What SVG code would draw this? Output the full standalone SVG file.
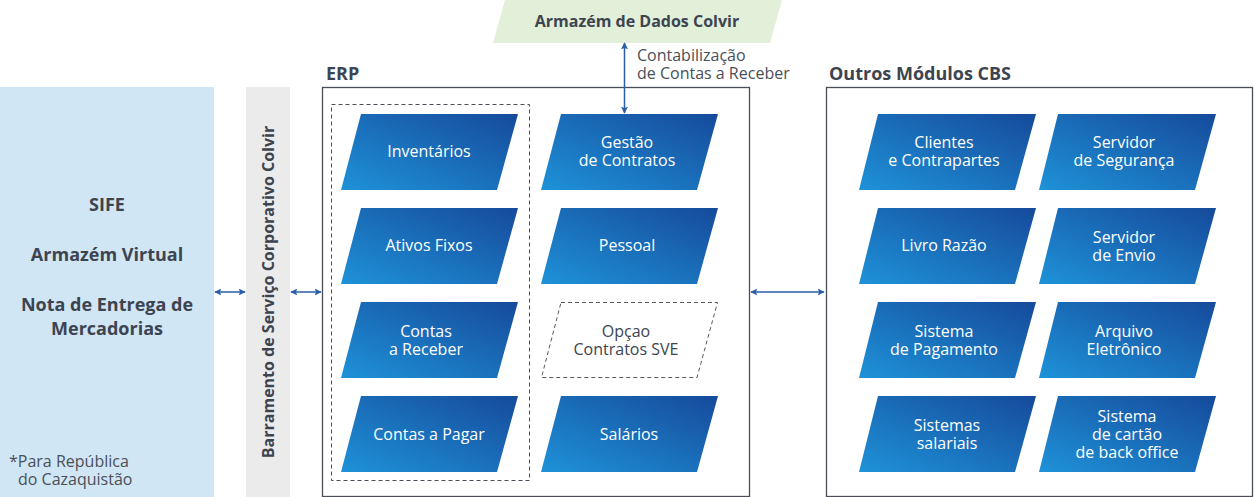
<svg xmlns="http://www.w3.org/2000/svg" width="1254" height="497" viewBox="0 0 1254 497">
<defs>
<linearGradient id="g" x1="0" y1="1" x2="1" y2="0">
<stop offset="0" stop-color="#1e92d8"/>
<stop offset="1" stop-color="#164a9b"/>
</linearGradient>
<marker id="ah" viewBox="0 0 10 10" refX="9" refY="5" markerWidth="7" markerHeight="7" markerUnits="userSpaceOnUse" orient="auto-start-reverse">
<path d="M0,0 L10,5 L0,10 L2,5 z" fill="#2a5fa8"/>
</marker>
<style>
.mod{fill:url(#g)}
.mt{font-family:"Open Sans","Liberation Sans",sans-serif;font-size:16px;fill:#ffffff;text-anchor:middle}
.dt{font-family:"Open Sans","Liberation Sans",sans-serif;font-size:16px;fill:#3d4450;text-anchor:middle}
.bt{font-family:"Open Sans","Liberation Sans",sans-serif;font-weight:bold;fill:#3d4450}
.rt{font-family:"Open Sans","Liberation Sans",sans-serif;font-size:16px;fill:#4a4f57}
.box{fill:#ffffff;stroke:#4a4f57;stroke-width:1.3}
.conn{stroke:#2a5fa8;stroke-width:1.5;fill:none;marker-start:url(#ah);marker-end:url(#ah)}
</style>
</defs>

<g id="sife">
<rect x="0" y="87" width="214" height="410" fill="#d0e6f5"/>
<text class="bt" font-size="18" text-anchor="middle" x="107" y="211">SIFE</text>
<text class="bt" font-size="18" text-anchor="middle" x="107" y="261">Armazém Virtual</text>
<text class="bt" font-size="18" text-anchor="middle" x="107" y="311">Nota de Entrega de</text>
<text class="bt" font-size="18" text-anchor="middle" x="107" y="335">Mercadorias</text>
<text class="rt" x="9" y="467">*Para República</text>
<text class="rt" x="18" y="485">do Cazaquistão</text>
</g>

<g id="bus">
<rect x="246" y="87" width="44" height="410" fill="#ebebeb"/>
<text class="bt" font-size="16" text-anchor="middle" transform="translate(274,292) rotate(-90)">Barramento de Serviço Corporativo Colvir</text>
</g>

<g id="dwh">
<polygon points="505,0 782,0 770,43 493,43" fill="#e2efd9"/>
<text class="bt" font-size="16" text-anchor="middle" x="637" y="27">Armazém de Dados Colvir</text>
</g>

<g id="erp">
<text class="bt" font-size="18" x="326" y="80">ERP</text>
<rect class="box" x="322.5" y="87.5" width="427" height="409"/>
<rect x="331.5" y="104.5" width="198" height="376" fill="none" stroke="#4a4f57" stroke-width="1" stroke-dasharray="4,3"/>
</g>

<g id="inventarios"><polygon class="mod" points="361,114 518,114 497,190 341,190"/><text class="mt" x="429" y="157">Inventários</text></g>
<g id="ativos"><polygon class="mod" points="361,208 518,208 497,284 341,284"/><text class="mt" x="429" y="251">Ativos Fixos</text></g>
<g id="receber"><polygon class="mod" points="361,302 518,302 497,378 341,378"/><text class="mt" x="426" y="337">Contas</text><text class="mt" x="426" y="355">a Receber</text></g>
<g id="pagar"><polygon class="mod" points="361,396 518,396 497,472 341,472"/><text class="mt" x="429" y="440">Contas a Pagar</text></g>
<g id="gestao"><polygon class="mod" points="561,114 718,114 697,190 541,190"/><text class="mt" x="627" y="148">Gestão</text><text class="mt" x="627" y="166">de Contratos</text></g>
<g id="pessoal"><polygon class="mod" points="561,208 718,208 697,284 541,284"/><text class="mt" x="627" y="251">Pessoal</text></g>
<g id="sve"><polygon points="561,302.5 717.5,302.5 697,377.5 541.5,377.5" fill="none" stroke="#555a62" stroke-width="1" stroke-dasharray="4,3"/><text class="dt" x="626" y="337">Opçao</text><text class="dt" x="626" y="355">Contratos SVE</text></g>
<g id="salarios"><polygon class="mod" points="561,396 718,396 697,472 541,472"/><text class="mt" x="629" y="440">Salários</text></g>

<g id="cbs">
<text class="bt" font-size="18" x="829" y="80">Outros Módulos CBS</text>
<rect class="box" x="826.5" y="87.5" width="426" height="409"/>
</g>

<g id="clientes"><polygon class="mod" points="878,114 1036,114 1015,190 859,190"/><text class="mt" x="944" y="148">Clientes</text><text class="mt" x="944" y="166">e Contrapartes</text></g>
<g id="seguranca"><polygon class="mod" points="1058,114 1216,114 1195,190 1039,190"/><text class="mt" x="1124" y="148">Servidor</text><text class="mt" x="1124" y="166">de Segurança</text></g>
<g id="razao"><polygon class="mod" points="878,208 1036,208 1015,284 859,284"/><text class="mt" x="944" y="251">Livro Razão</text></g>
<g id="envio"><polygon class="mod" points="1058,208 1216,208 1195,284 1039,284"/><text class="mt" x="1124" y="243">Servidor</text><text class="mt" x="1124" y="261">de Envio</text></g>
<g id="pagamento"><polygon class="mod" points="878,302 1036,302 1015,378 859,378"/><text class="mt" x="944" y="337">Sistema</text><text class="mt" x="944" y="355">de Pagamento</text></g>
<g id="arquivo"><polygon class="mod" points="1058,302 1216,302 1195,378 1039,378"/><text class="mt" x="1124" y="337">Arquivo</text><text class="mt" x="1124" y="355">Eletrônico</text></g>
<g id="salariais"><polygon class="mod" points="878,396 1036,396 1015,472 859,472"/><text class="mt" x="947" y="431">Sistemas</text><text class="mt" x="947" y="449">salariais</text></g>
<g id="cartao"><polygon class="mod" points="1058,396 1216,396 1195,472 1039,472"/><text class="mt" x="1127" y="422">Sistema</text><text class="mt" x="1127" y="440">de cartão</text><text class="mt" x="1127" y="458">de back office</text></g>

<g id="connectors">
<line class="conn" x1="215" y1="292" x2="245" y2="292"/>
<line class="conn" x1="291" y1="292" x2="321" y2="292"/>
<line class="conn" x1="751" y1="292" x2="824" y2="292"/>
<line class="conn" x1="624.5" y1="43" x2="624.5" y2="113"/>
<text class="rt" x="637" y="61">Contabilização</text>
<text class="rt" x="637" y="79">de Contas a Receber</text>
</g>
</svg>
